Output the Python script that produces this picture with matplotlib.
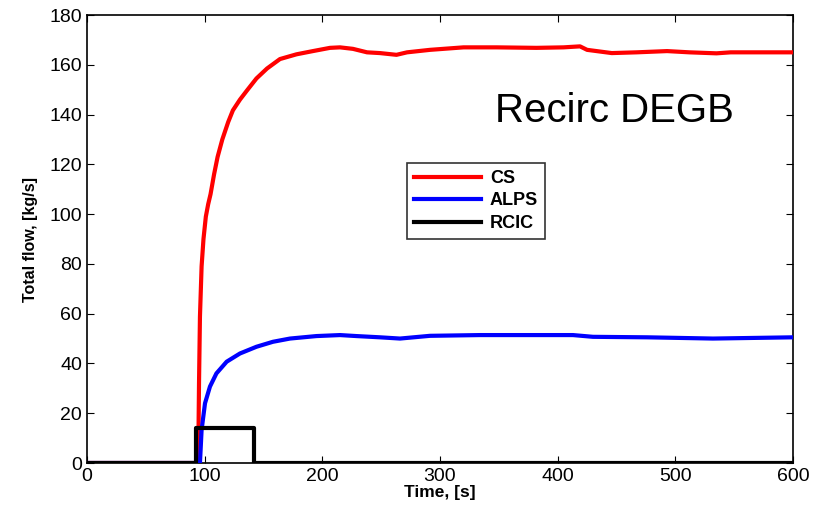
import matplotlib.pyplot as plt

plt.rcParams['font.family'] = ['Liberation Sans', 'DejaVu Sans']

# CS flow (red)
cs_time = [0, 94.5, 95.2, 96, 97.4, 99, 101, 103, 105, 108, 111, 115, 120, 124, 130, 136,
           144, 153, 164, 178, 192, 206.5, 215, 226, 238, 249, 263, 272, 291.5, 320, 348,
           382, 405, 419, 425, 446, 467, 493, 512, 535, 547, 600]
cs_flow = [0, 0, 32, 58.8, 79, 90, 99, 104, 108, 116, 123, 130, 137, 141.7, 146, 149.7,
           154.5, 158.5, 162.3, 164.2, 165.5, 166.8, 167, 166.4, 165, 164.7, 164, 165, 166, 167, 167,
           166.8, 167, 167.4, 166, 164.7, 165, 165.5, 165, 164.6, 165, 165]

# ALPS flow (blue)
alps_time = [0, 96, 97.4, 100.3, 104.5, 110, 118.7, 130, 144, 158, 172.5, 195, 215,
             229, 249, 266, 291.5, 334, 413, 430, 476, 532, 600]
alps_flow = [0, 0, 13.3, 24, 30.7, 36, 40.7, 44, 46.7, 48.7, 50, 51, 51.4,
             51, 50.5, 50, 51.1, 51.4, 51.4, 50.7, 50.5, 50, 50.5]

# RCIC flow (black)
rcic_time = [0, 93, 93, 142, 142, 600]
rcic_flow = [0, 0, 14, 14, 0, 0]

fig = plt.figure(figsize=(8.13, 5.12), dpi=100)
ax = fig.add_axes([0.107, 0.0957, 0.8684, 0.875])

ax.plot(cs_time, cs_flow, color='red', lw=3, label='CS', zorder=3)
ax.plot(alps_time, alps_flow, color='blue', lw=3, label='ALPS', zorder=4)
ax.plot(rcic_time, rcic_flow, color='black', lw=3, label='RCIC', zorder=5)

ax.set_xlim(0, 600)
ax.set_ylim(0, 180)
ax.set_xticks(range(0, 601, 100))
ax.set_yticks(range(0, 181, 20))
ax.tick_params(direction='in', top=True, right=True, length=5, labelsize=14)
for s in ax.spines.values():
    s.set_linewidth(1.2)

ax.set_xlabel('Time, [s]', fontsize=12.5, fontweight='bold', labelpad=0)
ax.set_ylabel('Total flow, [kg/s]', fontsize=11.5, fontweight='bold', labelpad=8)

ax.text(347, 141.5, 'Recirc DEGB', fontsize=29, va='center', ha='left')

leg = ax.legend(loc='upper left', bbox_to_anchor=(0.453, 0.670), fontsize=13,
                fancybox=False, edgecolor='black', handlelength=3.7,
                borderpad=0.4, labelspacing=0.3, handletextpad=0.5, borderaxespad=0)
leg.get_frame().set_linewidth(1.2)
for t in leg.get_texts():
    t.set_fontweight('bold')

fig.savefig('out.png', dpi=100)
